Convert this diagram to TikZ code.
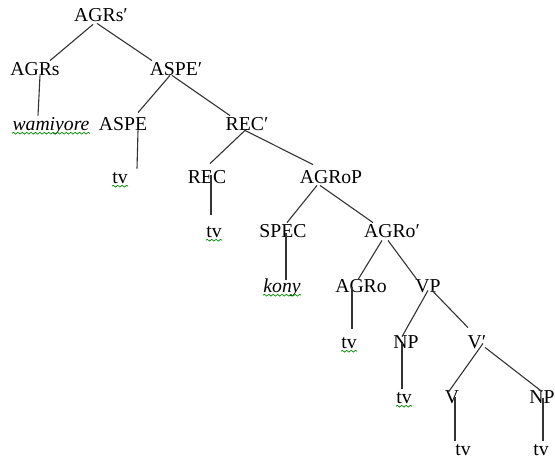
\documentclass[tikz,border=0pt]{standalone}
\usepackage{fontspec}
\setmainfont{Liberation Serif}
\usetikzlibrary{decorations.pathmorphing}

\begin{document}
\begin{tikzpicture}[x=0.5pt,y=-0.5pt,
  every node/.style={inner sep=0pt, text height=7pt, text depth=0pt, anchor=base,
    font=\fontsize{9.85}{12}\selectfont},
  branch/.style={draw=black!80, line width=0.55pt},
  spell/.style={draw=green!55!black, line width=0.35pt, decorate,
    decoration={snake, amplitude=0.45pt, segment length=2.2pt}}]
  \useasboundingbox (0,0) rectangle (555,457);

  %Define nodes
  \node (agrsbar) at (101,21) {AGRs′};
  \node (agrs)    at (35,75)  {AGRs};
  \node (aspebar) at (176,75) {ASPE′};
  \node (wami)    at (51,130) {\itshape wamiyore};
  \node (aspe)    at (123,130) {ASPE};
  \node (recbar)  at (247,130) {REC′};
  \node (tva)     at (120,183) {tv};
  \node (rec)     at (207,183) {REC};
  \node (agrop)   at (331,183) {AGRoP};
  \node (tvb)     at (214,237) {tv};
  \node (spec)    at (283,237) {SPEC};
  \node (agrobar) at (392,237) {AGRo′};
  \node (kony)    at (282,292) {\itshape kony};
  \node (agro)    at (361,292) {AGRo};
  \node (vp)      at (428,292) {VP};
  \node (tvc)     at (349,348) {tv};
  \node (npa)     at (406,348) {NP};
  \node (vbar)    at (477,348) {V′};
  \node (tvd)     at (404,403) {tv};
  \node (v)       at (452,403) {V};
  \node (npb)     at (542,403) {NP};
  \node (tve)     at (463,455) {tv};
  \node (tvf)     at (541,455) {tv};

  % Connect the nodes
  \draw[branch] ([xshift=-4pt,yshift=-1.5pt]agrsbar.south) -- ([xshift=7.5pt]agrs.north);
  \draw[branch] ([xshift=-2pt,yshift=-1pt]agrsbar.south) -- ([xshift=-12pt]aspebar.north);
  \draw[branch] ([xshift=2.5pt]agrs.south) -- ([xshift=-6.5pt]wami.north);
  \draw[branch] ([xshift=-3pt]aspebar.south) -- ([xshift=7.5pt,yshift=1.5pt]aspe.north);
  \draw[branch] ([xshift=-2pt]aspebar.south) -- ([xshift=-8.5pt]recbar.north);
  \draw[branch] ([xshift=7.5pt]aspe.south) -- ([xshift=8.5pt]tva.north);
  \draw[branch] ([xshift=-1pt]recbar.south) -- ([xshift=1.5pt,yshift=2.5pt]rec.north);
  \draw[branch] ([xshift=-1pt]recbar.south) -- ([xshift=-9pt,yshift=2pt]agrop.north);
  \draw[branch] ([xshift=2pt,yshift=4pt]rec.south) -- ([xshift=-1.5pt,yshift=4pt]tvb.north);
  \draw[branch] ([xshift=-7pt,yshift=-1pt]agrop.south) -- ([xshift=2pt]spec.north);
  \draw[branch] ([xshift=-5.5pt,yshift=-1pt]agrop.south) -- ([xshift=-9.5pt]agrobar.north);
  \draw[branch] ([xshift=1.5pt,yshift=2pt]spec.south) -- ([xshift=2pt,yshift=-1pt]kony.north);
  \draw[branch] ([xshift=-5pt,yshift=-1.5pt]agrobar.south) -- ([xshift=-1.5pt,yshift=-1pt]agro.north);
  \draw[branch] ([xshift=-2pt,yshift=-1.5pt]agrobar.south) -- ([xshift=-5.5pt,yshift=-1pt]vp.north);
  \draw[branch] ([xshift=-4.5pt,yshift=2.5pt]agro.south) -- ([xshift=1.5pt,yshift=2.5pt]tvc.north);
  \draw[branch] ([yshift=1pt]vp.south) -- ([xshift=-2pt,yshift=-1.5pt]npa.north);
  \draw[branch] ([xshift=2pt,yshift=1pt]vp.south) -- ([xshift=-4.5pt,yshift=3pt]vbar.north);
  \draw[branch] ([xshift=-2pt,yshift=2.5pt]npa.south) -- ([xshift=-1pt]tvd.north);
  \draw[branch] ([xshift=3pt,yshift=2.5pt]vbar.south) -- ([xshift=-2pt,yshift=-2pt]v.north);
  \draw[branch] ([xshift=4pt,yshift=0.5pt]vbar.south) -- ([yshift=-1.5pt]npb.north);
  \draw[branch] ([xshift=1.5pt,yshift=3pt]v.south) -- ([xshift=-4pt]tve.north);
  \draw[branch] ([xshift=0.5pt,yshift=2.5pt]npb.south) -- ([xshift=1pt]tvf.north);

  % spelling marks
  \foreach \w in {wami,tva,tvb,kony,tvc,tvd}
    \draw[spell] ([yshift=-1.6pt]\w.base west) -- ([yshift=-1.6pt]\w.base east);
\end{tikzpicture}
\end{document}
